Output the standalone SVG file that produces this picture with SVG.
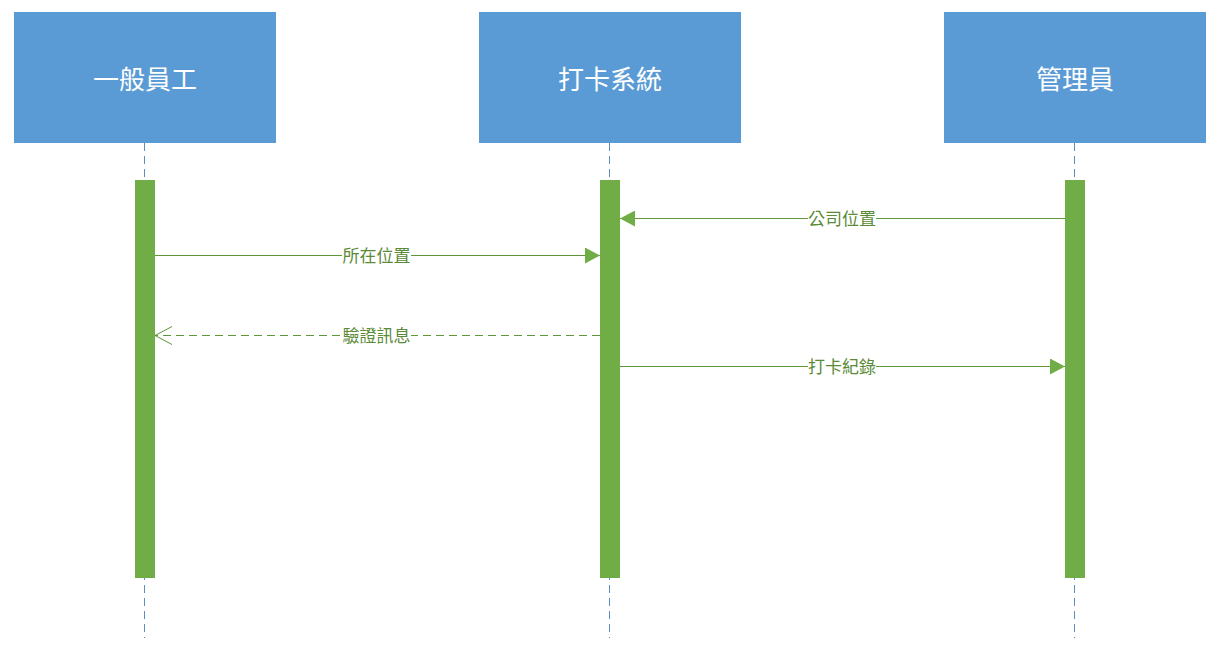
<svg xmlns="http://www.w3.org/2000/svg" width="1230" height="649" viewBox="0 0 1230 649">
<style>
.box{fill:#5B9BD5}
.title{fill:#fff;font-family:"Noto Sans CJK TC","Noto Sans CJK SC",sans-serif;font-size:26px;text-anchor:middle;dominant-baseline:central}
.life{stroke:#5A8EC4;stroke-width:1;stroke-dasharray:8,5}
.bar{fill:#70AD47}
.msg{stroke:#5E9638;stroke-width:1;fill:none}
.dash{stroke-dasharray:8,5}
.lbl{fill:#5B8A38;font-family:"Noto Sans CJK TC","Noto Sans CJK SC",sans-serif;font-size:17px;text-anchor:middle;dominant-baseline:central}
.bg{fill:#fff}
</style>
<defs>
<marker id="filled" markerWidth="16" markerHeight="16" refX="15" refY="8" orient="auto" markerUnits="userSpaceOnUse">
<path d="M0,0 L15,8 L0,16 Z" fill="#70AD47"/>
</marker>
<marker id="open" markerWidth="20" markerHeight="20" refX="18" refY="9" orient="auto" markerUnits="userSpaceOnUse">
<path d="M1,0 L18,9 L1,18" fill="none" stroke="#5E9638" stroke-width="1"/>
</marker>
</defs>
<rect width="1230" height="649" fill="#fff"/>
<g id="lifelines">
<line class="life" x1="144.5" y1="143" x2="144.5" y2="638"/>
<line class="life" x1="609.5" y1="143" x2="609.5" y2="638"/>
<line class="life" x1="1074.5" y1="143" x2="1074.5" y2="638"/>
</g>
<g id="node-employee">
<rect class="box" x="14" y="12" width="262" height="131"/>
<text class="title" x="145" y="77">一般員工</text>
<rect class="bar" x="135" y="180" width="20" height="398"/>
</g>
<g id="node-system">
<rect class="box" x="479" y="12" width="262" height="131"/>
<text class="title" x="610" y="77">打卡系統</text>
<rect class="bar" x="600" y="180" width="20" height="398"/>
</g>
<g id="node-admin">
<rect class="box" x="944" y="12" width="262" height="131"/>
<text class="title" x="1075" y="77">管理員</text>
<rect class="bar" x="1065" y="180" width="20" height="398"/>
</g>
<g id="connectors">
<line class="msg" x1="1065" y1="218.5" x2="620" y2="218.5" marker-end="url(#filled)"/>
<rect class="bg" x="808" y="208" width="68" height="20"/>
<text class="lbl" x="842" y="217">公司位置</text>
<line class="msg" x1="155" y1="255.5" x2="600" y2="255.5" marker-end="url(#filled)"/>
<rect class="bg" x="342" y="245" width="69" height="20"/>
<text class="lbl" x="376.5" y="254">所在位置</text>
<line class="msg dash" x1="600" y1="335.5" x2="155" y2="335.5" marker-end="url(#open)"/>
<rect class="bg" x="342" y="325" width="69" height="20"/>
<text class="lbl" x="376.5" y="334">驗證訊息</text>
<line class="msg" x1="620" y1="366.5" x2="1065" y2="366.5" marker-end="url(#filled)"/>
<rect class="bg" x="808" y="356" width="68" height="20"/>
<text class="lbl" x="842" y="365">打卡紀錄</text>
</g>
</svg>
